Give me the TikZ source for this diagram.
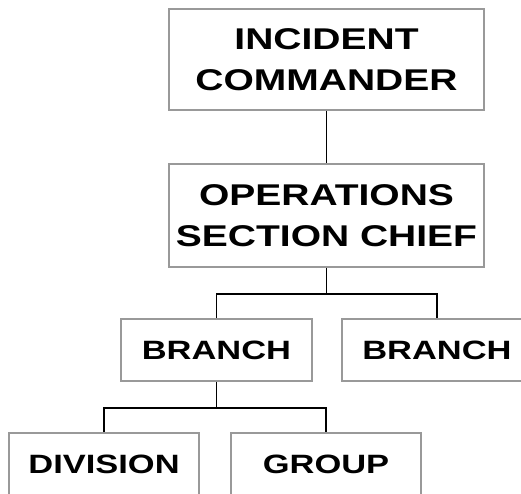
\documentclass[tikz,border=0pt]{standalone}
\usepackage{fontspec}
\setmainfont{Liberation Sans}[FakeStretch=1.3]
\usetikzlibrary{positioning,calc}

\begin{document}
\begin{tikzpicture}[x=1pt,y=-1pt]
\tikzset{ics box/.style={
    draw=black!40, line width=1.6pt, fill=white,
    minimum width=#1, anchor=center,
    align=center, inner sep=0pt,
    font=\bfseries\fontsize{30}{41}\selectfont
  },
  ics box/.default=315pt,
  small box/.style={ics box=#1, minimum height=62pt,
    font=\bfseries\fontsize{26.5}{30}\selectfont},
  small box/.default=190pt,
  ics line/.style={draw=black, line width=1.8pt}
}
\useasboundingbox (0,0) rectangle (521,494);
\clip (0,0) rectangle (521,494);

% command and operations
\node[ics box, minimum height=101pt] (ic) at (326.5,59.5) {INCIDENT\\COMMANDER};
\node[ics box, minimum height=103pt] (osc) at (326.5,215.5) {OPERATIONS\\SECTION CHIEF};

% branches
\node[small box=191pt] (br1) at (216.5,350) {BRANCH};
\node[small box] (br2) at (437,350) {BRANCH};

% division and group
\node[small box] (div) at (104,464) {DIVISION};
\node[small box] (grp) at (326,464) {GROUP};

\coordinate (j1) at ($(osc.south)+(0,26)$);
\coordinate (j2) at ($(br1.south)+(0,26)$);

\draw[ics line] (ic.south) -- (osc.north);
\draw[ics line] (osc.south) -- (j1);
\draw[ics line] (br1.north) |- (j1) -| (br2.north);
\draw[ics line] (br1.south) -- (j2);
\draw[ics line] (div.north) |- (j2) -| (grp.north);

\end{tikzpicture}
\end{document}
